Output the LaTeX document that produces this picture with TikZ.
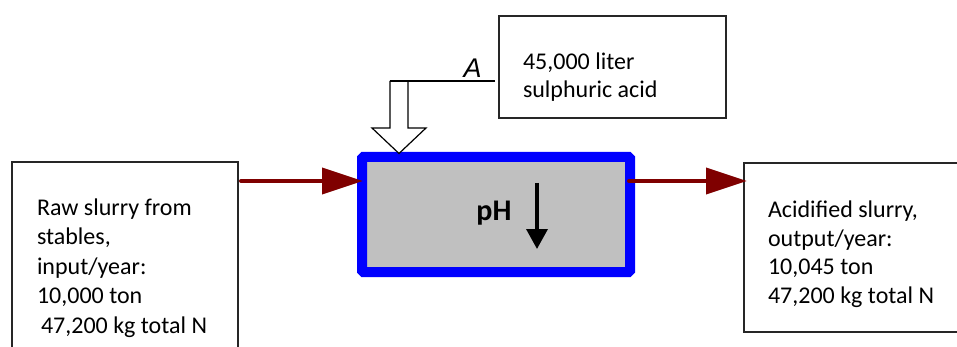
\documentclass[tikz,border=0pt]{standalone}
\usepackage{fontspec}
\setmainfont{Carlito}
\newfontfamily\libsans{Liberation Sans}
\usetikzlibrary{arrows.meta}
\definecolor{flowred}{HTML}{7F0000}
\definecolor{procgray}{HTML}{C0C0C0}
\definecolor{procblue}{HTML}{0000FF}
\tikzset{
  boxnode/.style={draw=black!85, line width=1.6pt, inner sep=0pt, outer sep=0pt, fill=white},
  txt/.style={inner sep=0pt, outer sep=0pt, text=black},
  flow/.style={draw=flowred, line width=4pt, line cap=round, -{Triangle[length=41pt,width=26pt]}},
}
\begin{document}
\begin{tikzpicture}[x=1pt,y=-1pt]
\clip (0,0) rectangle (957,347);
\fill[white] (0,0) rectangle (957,347);
% boxes
\node[boxnode, minimum width=226pt, minimum height=198pt] (lbox) at (125,261) {};
\node[boxnode, minimum width=216pt, minimum height=169pt] (rbox) at (852,247.5) {};
\node[boxnode, minimum width=227pt, minimum height=102pt] (tbox) at (612.5,67) {};
\node[draw=procblue, fill=procgray, line width=10pt, rounded corners=1.5pt, inner sep=0pt, outer sep=0pt,
      minimum width=268pt, minimum height=115pt] (proc) at (496,214.5) {};
% texts
\node[txt, anchor=base west] (ltext) at (37,215) {\parbox[t]{200pt}{\fontsize{24}{29.5}\selectfont\raggedright
Raw slurry from\\stables,\\input/year:\\10,000 ton\\\hspace*{4pt}47,200 kg total N}};
\node[txt, anchor=base west] (rtext) at (768,218) {\parbox[t]{185pt}{\fontsize{24}{28.4}\selectfont\raggedright
Acidified slurry,\\output/year:\\10,045 ton\\47,200 kg total N}};
\node[txt, anchor=base west] (ttext) at (523,69.5) {\parbox[t]{190pt}{\fontsize{24}{28}\selectfont\raggedright
45,000 liter\\sulphuric acid}};
\node[txt, anchor=base] (ph) at (494,221) {\fontsize{30}{32}\selectfont\bfseries pH};
\node[txt, anchor=base] (alabel) at (472.5,78) {\libsans\itshape\fontsize{27}{30}\selectfont A};
% pH down arrow
\coordinate (phtop) at (537,183);
\coordinate (phbot) at (537,249);
\draw[line width=3.5pt, -{Triangle[length=20pt,width=21pt]}] (phtop) -- (phbot);
% acid feed line and hollow block arrow
\coordinate (aj) at (390,81);
\coordinate (tj) at (495,81);
\draw[line width=1.2pt, fill=white, line join=miter]
  (390,81) -- (390,128) -- (372,128) -- (399,153.5) -- (426,128) -- (408,128) -- (408,81);
\draw[line width=1.2pt] (tj) -- (aj);
% flows
\coordinate (inA) at (241,181);
\coordinate (outA) at (629,181);
\draw[flow, shorten >=-1pt] (inA) -- (proc.west |- inA);
\draw[flow, shorten >=-3pt] (outA) -- (rbox.west |- outA);
\end{tikzpicture}
\end{document}
